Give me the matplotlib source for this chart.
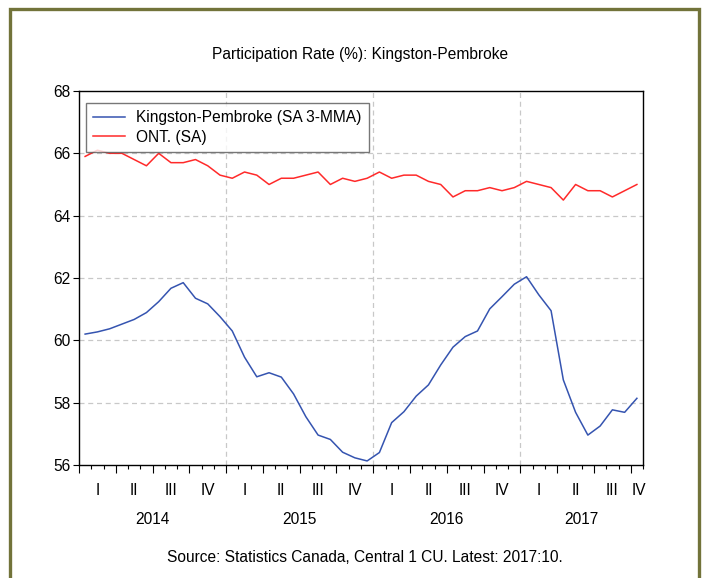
import numpy as np
import matplotlib
matplotlib.use("Agg")
import matplotlib.pyplot as plt
from matplotlib.patches import Rectangle
from matplotlib.ticker import FixedLocator, NullFormatter

plt.rcParams['font.family'] = ['Liberation Sans Narrow', 'Liberation Sans', 'DejaVu Sans']

# monthly data, 2014:01 .. 2017:10
kingston = [60.20, 60.27, 60.37, 60.52, 60.67, 60.89, 61.24, 61.67, 61.85, 61.35, 61.17, 60.76,
            60.30, 59.46, 58.83, 58.96, 58.82, 58.28, 57.55, 56.96, 56.82, 56.41, 56.23, 56.13,
            56.40, 57.36, 57.71, 58.21, 58.57, 59.21, 59.78, 60.12, 60.30, 61.01, 61.40, 61.80,
            62.04, 61.46, 60.95, 58.73, 57.69, 56.96, 57.25, 57.77, 57.69, 58.14]
ontario = [65.9, 66.1, 66.0, 66.0, 65.8, 65.6, 66.0, 65.7, 65.7, 65.8, 65.6, 65.3,
           65.2, 65.4, 65.3, 65.0, 65.2, 65.2, 65.3, 65.4, 65.0, 65.2, 65.1, 65.2,
           65.4, 65.2, 65.3, 65.3, 65.1, 65.0, 64.6, 64.8, 64.8, 64.9, 64.8, 64.9,
           65.1, 65.0, 64.9, 64.5, 65.0, 64.8, 64.8, 64.6, 64.8, 65.0]
years = ['2014', '2015', '2016', '2017']
quarters = ['I', 'II', 'III', 'IV']

n = len(kingston)
x = np.arange(n)
fs = 11.2

fig = plt.figure(figsize=(7.04, 5.78), dpi=100)
ax = fig.add_axes([0.1122, 0.1955, 0.8012, 0.6471])

# olive frame round the whole picture
fig.patches.append(Rectangle((10 / 704, -0.05), 689 / 704, 1.05 - 9 / 578,
                             transform=fig.transFigure, fill=False,
                             edgecolor='#72733a', linewidth=2.4, zorder=10))

ax.plot(x, kingston, color='#3554b0', lw=1.1, label='Kingston-Pembroke (SA 3-MMA)')
ax.plot(x, ontario, color='#ff2a2a', lw=1.1, label='ONT. (SA)')

ax.set_xlim(-0.5, n - 0.5)
ax.set_ylim(56, 68)
ax.set_yticks(np.arange(56, 69, 2))
ax.tick_params(axis='y', direction='out', length=4, width=0.8, labelsize=fs, pad=2)

# month ticks short, quarter ticks longer
bounds = np.arange(n + 1) - 0.5
qb = bounds[::3]
ax.xaxis.set_major_locator(FixedLocator(qb))
ax.xaxis.set_minor_locator(FixedLocator(bounds))
ax.xaxis.set_major_formatter(NullFormatter())
ax.tick_params(axis='x', which='major', direction='out', length=6, width=0.8)
ax.tick_params(axis='x', which='minor', direction='out', length=3, width=0.8)

for s in ax.spines.values():
    s.set_linewidth(1.0)
    s.set_color('black')

# grid
for v in range(58, 67, 2):
    ax.axhline(v, color='#c8c8c8', ls=(0, (4, 3)), lw=0.9, zorder=0)
for yb in (12, 24, 36):
    ax.axvline(yb - 0.5, color='#c8c8c8', ls=(0, (4, 3)), lw=0.9, zorder=0)

trans = ax.get_xaxis_transform()
for q in range(0, n, 3):
    xc = min(q + 1, n - 1 + 0.2)
    ax.text(xc, -0.067, quarters[(q // 3) % 4], transform=trans,
            ha='center', va='center', fontsize=fs)
for k, yr in enumerate(years):
    start = 12 * k
    end = min(12 * k + 11, n - 1)
    ax.text((start + end) / 2, -0.145, yr, transform=trans,
            ha='center', va='center', fontsize=fs)

leg = ax.legend(loc='upper left', bbox_to_anchor=(0.012, 0.968), fontsize=fs,
                frameon=True, fancybox=False, edgecolor='#555555',
                handlelength=2.1, handletextpad=0.7, borderpad=0.45,
                labelspacing=0.3, borderaxespad=0)
leg.get_frame().set_linewidth(1.0)

fig.text(0.512, 1 - 55 / 578, 'Participation Rate (%): Kingston-Pembroke',
         ha='center', va='center', fontsize=fs)
fig.text(0.518, 1 - 558 / 578, 'Source: Statistics Canada, Central 1 CU. Latest: 2017:10.',
         ha='center', va='center', fontsize=fs)

fig.savefig('out.png', dpi=100)
